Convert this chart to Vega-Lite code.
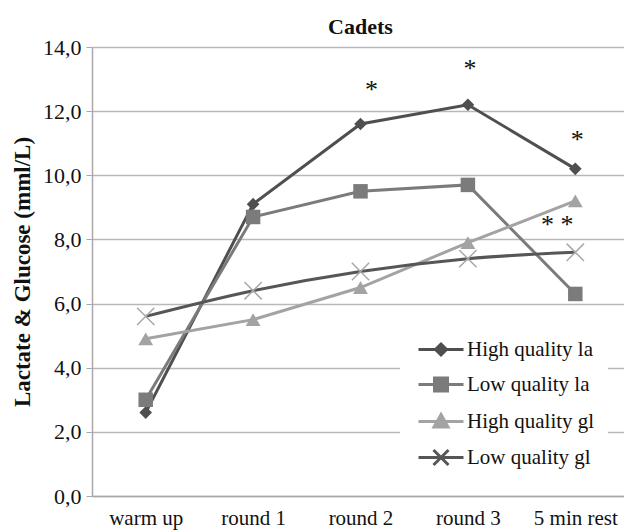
{
  "$schema": "https://vega.github.io/schema/vega-lite/v6.json",
  "width": 537,
  "height": 449,
  "autosize": {"type": "none"},
  "padding": {"left": 92, "top": 47, "right": 0, "bottom": 34},
  "background": "white",
  "title": {"text": "Cadets", "font": "Liberation Serif", "fontSize": 22, "fontWeight": "bold", "color": "#111111", "offset": -3, "anchor": "middle"},
  "config": {"view": {"stroke": null}},
  "datasets": {
    "main": [
      {"time": "warm up", "series": "High quality la", "value": 2.6},
      {"time": "round 1", "series": "High quality la", "value": 9.1},
      {"time": "round 2", "series": "High quality la", "value": 11.6},
      {"time": "round 3", "series": "High quality la", "value": 12.2},
      {"time": "5 min rest", "series": "High quality la", "value": 10.2},
      {"time": "warm up", "series": "Low quality la", "value": 3.0},
      {"time": "round 1", "series": "Low quality la", "value": 8.7},
      {"time": "round 2", "series": "Low quality la", "value": 9.5},
      {"time": "round 3", "series": "Low quality la", "value": 9.7},
      {"time": "5 min rest", "series": "Low quality la", "value": 6.3},
      {"time": "warm up", "series": "High quality gl", "value": 4.9},
      {"time": "round 1", "series": "High quality gl", "value": 5.5},
      {"time": "round 2", "series": "High quality gl", "value": 6.5},
      {"time": "round 3", "series": "High quality gl", "value": 7.9},
      {"time": "5 min rest", "series": "High quality gl", "value": 9.2},
      {"time": "warm up", "series": "Low quality gl", "value": 5.6},
      {"time": "round 1", "series": "Low quality gl", "value": 6.4},
      {"time": "round 2", "series": "Low quality gl", "value": 7.0},
      {"time": "round 3", "series": "Low quality gl", "value": 7.4},
      {"time": "5 min rest", "series": "Low quality gl", "value": 7.6}
    ],
    "stars": [
      {"time": "round 2", "value": 12.65, "label": "*"},
      {"time": "round 3", "value": 13.3, "label": "*"},
      {"time": "5 min rest", "value": 11.1, "label": "*"},
      {"time": "5 min rest", "value": 8.45, "label": "* *"}
    ]
  },
  "layer": [
    {
      "data": {"name": "main"},
      "transform": [{"filter": "datum.series !== 'Low quality gl'"}],
      "mark": {"type": "line", "strokeWidth": 3},
      "encoding": {
        "x": {
          "field": "time", "type": "ordinal",
          "sort": ["warm up", "round 1", "round 2", "round 3", "5 min rest"],
          "scale": {"type": "point", "padding": 0.5},
          "axis": {"title": null, "labelAngle": 0, "labelFont": "Liberation Serif", "labelFontSize": 21, "labelColor": "#111111", "ticks": false, "tickSize": 0, "labelPadding": 11, "domainColor": "#a8a8a8", "domainWidth": 1.5, "grid": false}
        },
        "y": {
          "field": "value", "type": "quantitative",
          "scale": {"domain": [0, 14], "nice": false},
          "axis": {"title": "Lactate & Glucose (mml/L)", "titleFont": "Liberation Serif", "titleFontSize": 23, "titleFontWeight": "bold", "titleColor": "#111111", "titlePadding": 8,
            "values": [0, 2, 4, 6, 8, 10, 12, 14], "labelExpr": "replace(format(datum.value, '.1f'), '.', ',')",
            "labelFont": "Liberation Serif", "labelFontSize": 22, "labelColor": "#111111", "labelPadding": 5,
            "tickSize": 6, "tickColor": "#a8a8a8", "domainColor": "#a8a8a8", "domainWidth": 1.5,
            "grid": true, "gridColor": "#b8b8b8", "gridWidth": 1.5}
        },
        "color": {
          "field": "series", "type": "nominal",
          "scale": {"domain": ["High quality la", "Low quality la", "High quality gl", "Low quality gl"], "range": ["#4f4f4f", "#7b7b7b", "#a3a3a3", "#565656"]},
          "legend": {
            "title": null, "orient": "none", "legendX": 308, "legendY": 279,
            "fillColor": "white", "padding": 13,
            "labelFont": "Liberation Serif", "labelFontSize": 21, "labelColor": "#111111", "labelOffset": 33, "labelLimit": 300,
            "symbolSize": 100, "symbolStrokeWidth": 3, "rowPadding": 11,
            "encode": {"symbols": {"update": {
              "shape": {"signal": "datum.value === 'High quality la' ? 'M-1,0H8M3.5,-1.1L4.6,0L3.5,1.1L2.4,0Z' : datum.value === 'Low quality la' ? 'M-1,0H8M2.2,-1.3H4.8V1.3H2.2Z' : datum.value === 'High quality gl' ? 'M-1,0H8M3.5,-1.4L4.9,1.1H2.1Z' : 'M-1,0H8M2,-1.5L5,1.5M2,1.5L5,-1.5'"},
              "fill": {"signal": "datum.value === 'High quality la' ? '#4f4f4f' : datum.value === 'Low quality la' ? '#7b7b7b' : datum.value === 'High quality gl' ? '#a3a3a3' : 'transparent'"},
              "strokeWidth": {"value": 3}
            }}}
          }
        }
      }
    },
    {
      "data": {"name": "main"},
      "transform": [{"filter": "datum.series === 'Low quality gl'"}],
      "mark": {"type": "line", "strokeWidth": 3, "interpolate": "monotone"},
      "encoding": {
        "x": {"field": "time", "type": "ordinal", "sort": ["warm up", "round 1", "round 2", "round 3", "5 min rest"]},
        "y": {"field": "value", "type": "quantitative"},
        "color": {"field": "series", "type": "nominal"}
      }
    },
    {
      "data": {"name": "main"},
      "transform": [{"filter": "datum.series === 'High quality la'"}],
      "mark": {"type": "point", "shape": "diamond", "filled": true, "size": 160, "opacity": 1},
      "encoding": {
        "x": {"field": "time", "type": "ordinal", "sort": ["warm up", "round 1", "round 2", "round 3", "5 min rest"]},
        "y": {"field": "value", "type": "quantitative"},
        "color": {"field": "series", "type": "nominal"}
      }
    },
    {
      "data": {"name": "main"},
      "transform": [{"filter": "datum.series === 'Low quality la'"}],
      "mark": {"type": "point", "shape": "square", "filled": true, "size": 210, "opacity": 1},
      "encoding": {
        "x": {"field": "time", "type": "ordinal", "sort": ["warm up", "round 1", "round 2", "round 3", "5 min rest"]},
        "y": {"field": "value", "type": "quantitative"},
        "color": {"field": "series", "type": "nominal"}
      }
    },
    {
      "data": {"name": "main"},
      "transform": [{"filter": "datum.series === 'High quality gl'"}],
      "mark": {"type": "point", "shape": "triangle-up", "filled": true, "size": 220, "opacity": 1},
      "encoding": {
        "x": {"field": "time", "type": "ordinal", "sort": ["warm up", "round 1", "round 2", "round 3", "5 min rest"]},
        "y": {"field": "value", "type": "quantitative"},
        "color": {"field": "series", "type": "nominal"}
      }
    },
    {
      "data": {"name": "main"},
      "transform": [{"filter": "datum.series === 'Low quality gl'"}],
      "mark": {"type": "point", "shape": "M-1,-1L1,1M-1,1L1,-1", "filled": false, "size": 300, "opacity": 1, "stroke": "#a8a8a8", "strokeWidth": 1.5},
      "encoding": {
        "x": {"field": "time", "type": "ordinal", "sort": ["warm up", "round 1", "round 2", "round 3", "5 min rest"]},
        "y": {"field": "value", "type": "quantitative"}
      }
    },
    {
      "data": {"name": "stars"},
      "transform": [{"filter": "datum.time === 'round 2'"}],
      "mark": {"type": "text", "font": "Liberation Serif", "fontSize": 26, "color": "#111111", "dx": 11, "baseline": "middle"},
      "encoding": {
        "x": {"field": "time", "type": "ordinal", "sort": ["warm up", "round 1", "round 2", "round 3", "5 min rest"]},
        "y": {"field": "value", "type": "quantitative"},
        "text": {"field": "label"}
      }
    },
    {
      "data": {"name": "stars"},
      "transform": [{"filter": "datum.time !== 'round 2' && datum.label === '*'"}],
      "mark": {"type": "text", "font": "Liberation Serif", "fontSize": 26, "color": "#111111", "dx": 2, "baseline": "middle"},
      "encoding": {
        "x": {"field": "time", "type": "ordinal", "sort": ["warm up", "round 1", "round 2", "round 3", "5 min rest"]},
        "y": {"field": "value", "type": "quantitative"},
        "text": {"field": "label"}
      }
    },
    {
      "data": {"name": "stars"},
      "transform": [{"filter": "datum.label === '* *'"}],
      "mark": {"type": "text", "font": "Liberation Serif", "fontSize": 26, "color": "#111111", "dx": -18, "baseline": "middle"},
      "encoding": {
        "x": {"field": "time", "type": "ordinal", "sort": ["warm up", "round 1", "round 2", "round 3", "5 min rest"]},
        "y": {"field": "value", "type": "quantitative"},
        "text": {"field": "label"}
      }
    }
  ]
}
